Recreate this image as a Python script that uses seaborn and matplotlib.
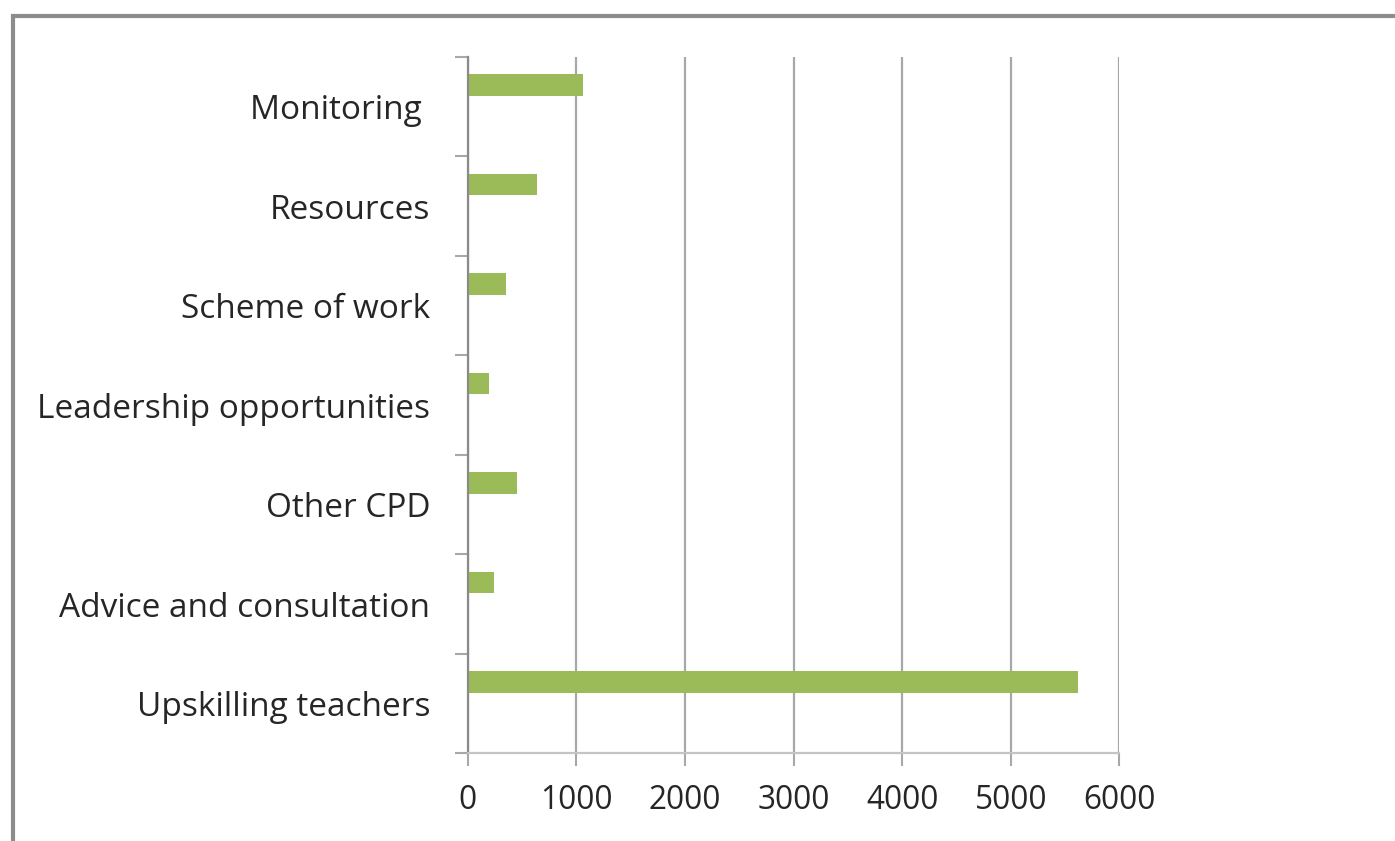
# Horizontal bar chart of support types
import numpy as np
import pandas as pd
import seaborn as sns
import matplotlib.pyplot as plt
from matplotlib.patches import Rectangle

categories = ["Monitoring ", "Resources", "Scheme of work", "Leadership opportunities",
              "Other CPD", "Advice and consultation", "Upskilling teachers"]
values = [1060, 635, 350, 196, 451, 242, 5622]
# the original sheet had three series slots, only the first one holds data
series = ["Count", "Empty 1", "Empty 2"]
xticks = [0, 1000, 2000, 3000, 4000, 5000, 6000]

rows = []
for s in series:
    for c, v in zip(categories, values):
        rows.append({"category": c, "series": s, "value": v if s == "Count" else 0})
df = pd.DataFrame(rows)

sns.set_theme(style="white")
plt.rcParams['font.family'] = ['Open Sans', 'DejaVu Sans']

text_col = "#262626"
grid_col = "#a8a8a8"
green = "#9BBB59"

fig = plt.figure(figsize=(13.95, 8.41), dpi=100)
ax = fig.add_axes([0.3353, 0.1043, 0.8024 - 0.3353, 0.9322 - 0.1043])

sns.barplot(data=df, y="category", x="value", hue="series", hue_order=series,
            order=categories, orient="h", width=0.654, gap=0, dodge=True,
            palette=[green, green, green], saturation=1, legend=False,
            linewidth=0, errorbar=None, ax=ax)

ax.set_xlim(0, 6000)
ax.set_ylim(6.5, -0.5)
ax.set_xticks(xticks)
ax.set_xticklabels([str(t) for t in xticks], fontsize=22.8, color=text_col)
ax.set_yticks(range(len(categories)))
ax.set_yticklabels(categories, fontsize=24, color=text_col)
ax.set_yticks(np.arange(-0.5, len(categories), 1), minor=True)
ax.set_xlabel("")
ax.set_ylabel("")

ax.xaxis.grid(True, color=grid_col, lw=1.6)
ax.set_axisbelow(True)
ax.tick_params(axis="y", which="major", length=0, pad=27)
ax.tick_params(axis="y", which="minor", length=9.4, width=1.5, color=grid_col, left=True)
ax.tick_params(axis="x", which="major", length=9.4, width=1.5, color=grid_col,
               bottom=True, pad=13)

for side in ["top", "right"]:
    ax.spines[side].set_visible(False)
ax.spines["left"].set_color("#8a8a8a")
ax.spines["left"].set_linewidth(1.6)
ax.spines["bottom"].set_color("#c4c4c4")
ax.spines["bottom"].set_linewidth(1.6)

# outer frame, cut off at right and bottom like the screenshot
fig.patches.append(Rectangle((13 / 1395, -0.1), 1.2, 1 - 16 / 841 + 0.1,
                             transform=fig.transFigure, fill=False,
                             edgecolor="#8c8c8c", lw=3))

fig.savefig("out.png", dpi=100)
